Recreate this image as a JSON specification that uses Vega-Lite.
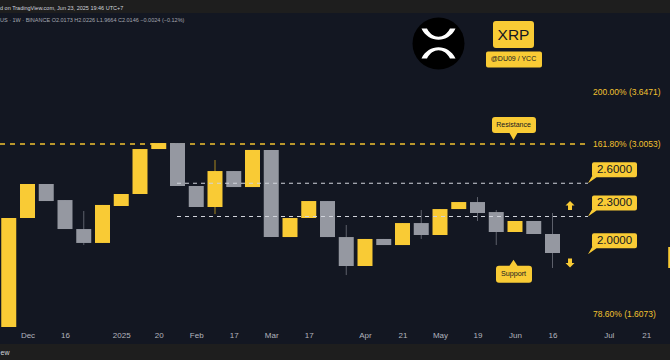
{
  "$schema": "https://vega.github.io/schema/vega-lite/v6.json",
  "width": 670,
  "height": 331,
  "autosize": {"type": "none"},
  "padding": {"left": 0, "right": 0, "top": 13, "bottom": 16},
  "background": "#1e1e1e",
  "config": {
    "view": {"fill": "#131722", "stroke": null},
    "font": "Liberation Sans",
    "scale": {"continuousPadding": 0}
  },
  "resolve": {"scale": {"shape": "independent"}},
  "title": {
    "text": "d on TradingView.com, Jun 23, 2025 19:46 UTC+7",
    "subtitle": "US · 1W · BINANCE   O2.0173  H2.0226  L1.9664  C2.0146  −0.0024 (−0.12%)",
    "anchor": "start",
    "frame": "group",
    "font": "Liberation Sans",
    "subtitleFont": "Liberation Sans",
    "fontSize": 5.5,
    "fontWeight": "normal",
    "color": "#d1d4dc",
    "subtitleFontSize": 5.5,
    "subtitleColor": "#a3a6af",
    "offset": -10,
    "subtitlePadding": 6
  },
  "datasets": {
    "candles": [
      {"date": "2024-11-25", "open": 1.530, "high": 2.287, "low": 1.530, "close": 2.287},
      {"date": "2024-12-02", "open": 2.287, "high": 2.593, "low": 2.287, "close": 2.593},
      {"date": "2024-12-09", "open": 2.593, "high": 2.593, "low": 2.435, "close": 2.435},
      {"date": "2024-12-16", "open": 2.444, "high": 2.444, "low": 2.196, "close": 2.196},
      {"date": "2024-12-23", "open": 2.196, "high": 2.347, "low": 2.070, "close": 2.086},
      {"date": "2024-12-30", "open": 2.086, "high": 2.400, "low": 2.086, "close": 2.400},
      {"date": "2025-01-06", "open": 2.391, "high": 2.499, "low": 2.391, "close": 2.499},
      {"date": "2025-01-13", "open": 2.499, "high": 2.950, "low": 2.499, "close": 2.950},
      {"date": "2025-01-20", "open": 2.950, "high": 3.016, "low": 2.950, "close": 3.016},
      {"date": "2025-01-27", "open": 3.016, "high": 3.016, "low": 2.574, "close": 2.574},
      {"date": "2025-02-03", "open": 2.574, "high": 2.574, "low": 2.382, "close": 2.382},
      {"date": "2025-02-10", "open": 2.382, "high": 2.833, "low": 2.321, "close": 2.720},
      {"date": "2025-02-17", "open": 2.720, "high": 2.720, "low": 2.564, "close": 2.564},
      {"date": "2025-02-24", "open": 2.564, "high": 2.940, "low": 2.564, "close": 2.940},
      {"date": "2025-03-03", "open": 2.940, "high": 2.940, "low": 2.132, "close": 2.132},
      {"date": "2025-03-10", "open": 2.132, "high": 2.287, "low": 2.132, "close": 2.287},
      {"date": "2025-03-17", "open": 2.287, "high": 2.435, "low": 2.287, "close": 2.435},
      {"date": "2025-03-24", "open": 2.435, "high": 2.435, "low": 2.132, "close": 2.132},
      {"date": "2025-03-31", "open": 2.132, "high": 2.229, "low": 1.853, "close": 1.916},
      {"date": "2025-04-07", "open": 1.916, "high": 2.117, "low": 1.916, "close": 2.117},
      {"date": "2025-04-14", "open": 2.117, "high": 2.117, "low": 2.070, "close": 2.070},
      {"date": "2025-04-21", "open": 2.070, "high": 2.245, "low": 2.070, "close": 2.245},
      {"date": "2025-04-28", "open": 2.245, "high": 2.356, "low": 2.117, "close": 2.148},
      {"date": "2025-05-05", "open": 2.148, "high": 2.364, "low": 2.148, "close": 2.364},
      {"date": "2025-05-12", "open": 2.364, "high": 2.426, "low": 2.364, "close": 2.426},
      {"date": "2025-05-19", "open": 2.426, "high": 2.471, "low": 2.262, "close": 2.330},
      {"date": "2025-05-26", "open": 2.338, "high": 2.356, "low": 2.070, "close": 2.172},
      {"date": "2025-06-02", "open": 2.172, "high": 2.262, "low": 2.172, "close": 2.262},
      {"date": "2025-06-09", "open": 2.262, "high": 2.262, "low": 2.156, "close": 2.156},
      {"date": "2025-06-16", "open": 2.156, "high": 2.330, "low": 1.902, "close": 2.010},
      {"date": "2025-08-01", "open": 1.902, "high": 2.055, "low": 1.902, "close": 2.055}
    ],
    "fib": [
      {"p": 3.6471, "label": "200.00% (3.6471)", "at": "2025-07-01T03:00:00Z", "from": "2024-11-21T17:36:00Z", "to": "2025-06-29T06:00:00Z"},
      {"p": 3.0053, "label": "161.80% (3.0053)", "at": "2025-07-01T03:00:00Z", "from": "2024-11-21T17:36:00Z", "to": "2025-06-29T06:00:00Z"},
      {"p": 1.6073, "label": "78.60% (1.6073)", "at": "2025-07-01T03:00:00Z", "from": "2024-11-21T17:36:00Z", "to": "2025-06-29T06:00:00Z"}
    ],
    "levels": [
      {"p": 2.6, "label": "2.6000", "from": "2025-01-26T19:30:00Z", "to": "2025-06-29T06:00:00Z"},
      {"p": 2.3, "label": "2.3000", "from": "2025-01-26T19:30:00Z", "to": "2025-06-29T06:00:00Z"},
      {"p": 2.0, "label": "2.0000", "from": "2025-01-26T19:30:00Z", "to": "2025-06-29T06:00:00Z"}
    ],
    "notes": [
      {"date": "2025-06-01T10:30:00Z", "p": 3.0053, "kind": "res", "label": "Resistance"},
      {"date": "2025-06-01T10:30:00Z", "p": 2.0, "kind": "sup", "label": "Support"}
    ],
    "badge": [
      {"date": "2025-06-01T10:30:00Z", "p": 4.4934, "label": "XRP", "sub": "@DU09 / YCC"}
    ],
    "logo": [
      {"date": "2025-05-04T10:30:00Z", "p": 4.3544}
    ],
    "arrows": [
      {"date": "2025-06-22T13:00:00Z", "p": 2.3951, "dir": "up"},
      {"date": "2025-06-22T13:00:00Z", "p": 1.9372, "dir": "down"}
    ]
  },
  "encoding": {
    "x": {"field": "date", "type": "temporal",
          "scale": {"type": "utc", "padding": 0, "domain": [{"year": 2024, "month": "nov", "date": 21, "hours": 17, "minutes": 36, "utc": true}, {"year": 2025, "month": "jul", "date": 29, "hours": 20, "minutes": 48, "utc": true}]},
          "axis": {
            "values": [
              {"year": 2024, "month": "dec", "date": 2, "utc": true},
              {"year": 2024, "month": "dec", "date": 16, "utc": true},
              {"year": 2025, "month": "jan", "date": 6, "utc": true},
              {"year": 2025, "month": "jan", "date": 20, "utc": true},
              {"year": 2025, "month": "feb", "date": 3, "utc": true},
              {"year": 2025, "month": "feb", "date": 17, "utc": true},
              {"year": 2025, "month": "mar", "date": 3, "utc": true},
              {"year": 2025, "month": "mar", "date": 17, "utc": true},
              {"year": 2025, "month": "apr", "date": 7, "utc": true},
              {"year": 2025, "month": "apr", "date": 21, "utc": true},
              {"year": 2025, "month": "may", "date": 5, "utc": true},
              {"year": 2025, "month": "may", "date": 19, "utc": true},
              {"year": 2025, "month": "jun", "date": 2, "utc": true},
              {"year": 2025, "month": "jun", "date": 16, "utc": true},
              {"year": 2025, "month": "jul", "date": 7, "utc": true},
              {"year": 2025, "month": "jul", "date": 21, "utc": true}
            ],
            "labelExpr": "utcdate(datum.value) <= 7 ? (utcmonth(datum.value) == 0 ? '' + utcyear(datum.value) : utcFormat(datum.value, '%b')) : '' + utcdate(datum.value)",
            "domain": false, "ticks": false, "grid": false,
            "offset": -17, "labelPadding": 4, "zindex": 2,
            "labelColor": "#b2b5be", "labelFontSize": 8, "labelFont": "Liberation Sans",
            "labelOverlap": false, "labelFlush": false,
            "title": "ew", "titleX": 0, "titleY": 25, "titleAlign": "left",
            "titleBaseline": "middle", "titleFontSize": 7, "titleFontWeight": "normal",
            "titleColor": "#d1d4dc", "titleFont": "Liberation Sans"
          }},
    "y": {"field": "p", "type": "quantitative", "scale": {"type": "log", "padding": 0, "domain": [1.4368, 4.8733], "nice": false, "zero": false}, "axis": null}
  },
  "layer": [
    {
      "data": {"name": "candles"},
      "mark": {"type": "rule", "strokeWidth": 1, "clip": true},
      "encoding": {
        "y": {"field": "low", "type": "quantitative", "scale": {"type": "log", "padding": 0, "domain": [1.4368, 4.8733], "nice": false, "zero": false}, "axis": null},
        "y2": {"field": "high"},
        "color": {"condition": {"test": "datum.close > datum.open", "value": "#a8871f"}, "value": "#5d606b"}
      }
    },
    {
      "data": {"name": "fib"},
      "transform": [{"filter": "datum.p == 3.0053"}],
      "mark": {"type": "rule", "strokeDash": [5, 5], "strokeWidth": 1.5, "color": "#f2c230", "clip": true},
      "encoding": {
        "x": {"field": "from", "type": "temporal"},
        "x2": {"field": "to"}
      }
    },
    {
      "data": {"name": "candles"},
      "mark": {"type": "bar", "width": 15, "clip": true},
      "encoding": {
        "y": {"field": "open", "type": "quantitative", "scale": {"type": "log", "padding": 0, "domain": [1.4368, 4.8733], "nice": false, "zero": false}, "axis": null},
        "y2": {"field": "close"},
        "color": {"condition": {"test": "datum.close > datum.open", "value": "#f9cb35"}, "value": "#9598a1"}
      }
    },
    {
      "data": {"name": "levels"},
      "transform": [{"filter": "datum.p > 2.1"}],
      "mark": {"type": "rule", "strokeDash": [4, 4], "strokeWidth": 1.2, "color": "#d1d4dc"},
      "encoding": {
        "x": {"field": "from", "type": "temporal"},
        "x2": {"field": "to"}
      }
    },
    {
      "data": {"name": "fib"},
      "mark": {"type": "text", "align": "left", "baseline": "middle", "fontSize": 8.5, "font": "Liberation Sans", "color": "#f2c230"},
      "encoding": {
        "x": {"field": "at", "type": "temporal"},
        "text": {"field": "label"}
      }
    },
    {
      "data": {"name": "levels"},
      "mark": {"type": "point", "filled": true, "size": 4, "opacity": 1, "strokeWidth": 0, "color": "#f9cb35",
               "shape": "M6 -21 H47 Q49 -21 49 -19 V-8 Q49 -6 47 -6 H6 Q4 -6 4 -8 V-19 Q4 -21 6 -21 Z M0 0 L4 -7 L10 -7 Z"},
      "encoding": {
        "x": {"field": "to", "type": "temporal"}
      }
    },
    {
      "data": {"name": "levels"},
      "mark": {"type": "text", "dx": 26.5, "dy": -13.5, "align": "center", "baseline": "middle", "fontSize": 11.5, "font": "Liberation Sans", "color": "#131722"},
      "encoding": {
        "x": {"field": "to", "type": "temporal"},
        "text": {"field": "label"}
      }
    },
    {
      "data": {"name": "notes"},
      "mark": {"type": "point", "filled": true, "size": 4, "opacity": 1, "strokeWidth": 0, "color": "#f9cb35"},
      "encoding": {
        "shape": {"field": "kind", "type": "nominal", "legend": null,
                  "scale": {"domain": ["res", "sup"], "range": [
                    "M-18.5 -27 H19.5 Q22.5 -27 22.5 -24 V-14 Q22.5 -11 19.5 -11 H4 L0 -4 L-4 -11 H-18.5 Q-21.5 -11 -21.5 -14 V-24 Q-21.5 -27 -18.5 -27 Z",
                    "M-14.5 11.5 H-4 L0 5.5 L4 11.5 H15.5 Q18.5 11.5 18.5 14.5 V25.5 Q18.5 28.5 15.5 28.5 H-14.5 Q-17.5 28.5 -17.5 25.5 V14.5 Q-17.5 11.5 -14.5 11.5 Z"
                  ]}}
      }
    },
    {
      "data": {"name": "notes"},
      "transform": [{"filter": "datum.kind == 'res'"}],
      "mark": {"type": "text", "dy": -19, "align": "center", "baseline": "middle", "fontSize": 7, "font": "Liberation Sans", "color": "#131722"},
      "encoding": {"text": {"field": "label"}}
    },
    {
      "data": {"name": "notes"},
      "transform": [{"filter": "datum.kind == 'sup'"}],
      "mark": {"type": "text", "dy": 20, "align": "center", "baseline": "middle", "fontSize": 7.2, "font": "Liberation Sans", "color": "#131722"},
      "encoding": {"text": {"field": "label"}}
    },
    {
      "data": {"name": "badge"},
      "mark": {"type": "point", "filled": true, "size": 4, "opacity": 1, "strokeWidth": 0, "color": "#f9cb35",
               "shape": "M-17.5 -14 H17.5 Q20.5 -14 20.5 -11 V10 Q20.5 13 17.5 13 H-17.5 Q-20.5 13 -20.5 10 V-11 Q-20.5 -14 -17.5 -14 Z M-25.5 16.5 H26.5 Q28.5 16.5 28.5 18.5 V30.5 Q28.5 32.5 26.5 32.5 H-25.5 Q-27.5 32.5 -27.5 30.5 V18.5 Q-27.5 16.5 -25.5 16.5 Z"}
    },
    {
      "data": {"name": "badge"},
      "mark": {"type": "text", "dy": 0.5, "align": "center", "baseline": "middle", "fontSize": 15.5, "font": "Liberation Sans", "color": "#131722"},
      "encoding": {"text": {"field": "label"}}
    },
    {
      "data": {"name": "badge"},
      "mark": {"type": "text", "dy": 24.5, "align": "center", "baseline": "middle", "fontSize": 7, "font": "Liberation Sans", "color": "#131722"},
      "encoding": {"text": {"field": "sub"}}
    },
    {
      "data": {"name": "logo"},
      "mark": {"type": "point", "filled": true, "shape": "circle", "size": 2704, "opacity": 1, "strokeWidth": 0, "color": "#000000"}
    },
    {
      "data": {"name": "logo"},
      "mark": {"type": "point", "filled": true, "size": 4, "opacity": 1, "strokeWidth": 0, "color": "#ffffff",
               "shape": "M-17 -15 L-11.5 -15 C-6 -4 6 -4 11.5 -15 L17 -15 C10 0 -10 0 -17 -15 Z M-17 15 L-11.5 15 C-6 4 6 4 11.5 15 L17 15 C10 0 -10 0 -17 15 Z"}
    },
    {
      "data": {"name": "arrows"},
      "mark": {"type": "point", "filled": true, "size": 4, "opacity": 1, "strokeWidth": 0, "color": "#f9cb35"},
      "encoding": {
        "shape": {"field": "dir", "type": "nominal", "legend": null,
                  "scale": {"domain": ["up", "down"], "range": [
                    "M0 -4.5 L4.5 0 L2 0 L2 4.5 L-2 4.5 L-2 0 L-4.5 0 Z",
                    "M0 4.5 L4.5 0 L2 0 L2 -4.5 L-2 -4.5 L-2 0 L-4.5 0 Z"
                  ]}}
      }
    }
  ]
}
